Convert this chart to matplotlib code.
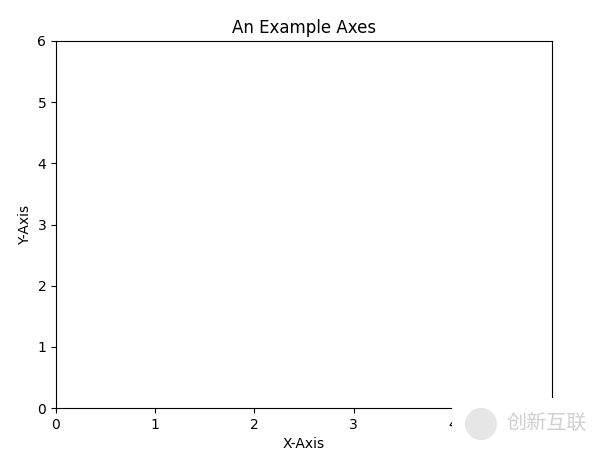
import matplotlib
matplotlib.use("Agg")
import matplotlib.pyplot as plt
from matplotlib.patches import Rectangle, Ellipse

title = "An Example Axes"
xlabel = "X-Axis"
ylabel = "Y-Axis"
xlim = [0, 5]
ylim = [0, 6]
xticks = [0, 1, 2, 3, 4]
yticks = [0, 1, 2, 3, 4, 5, 6]
watermark = "创新互联"

fig = plt.figure(figsize=(5.98, 4.54), dpi=100)
W, H = 598, 454
ax = fig.add_axes([56 / W, 1 - 408 / H, 496 / W, 367 / H])
ax.set_xlim(xlim)
ax.set_ylim(ylim)
ax.set_xticks(xticks)
ax.set_yticks(yticks)
ax.set_title(title)
ax.set_xlabel(xlabel)
ax.set_ylabel(ylabel)

# watermark overlay
fig.patches.append(Rectangle((452 / W, 0), 146 / W, (454 - 398) / H,
                             transform=fig.transFigure, facecolor="white",
                             edgecolor="none", zorder=10))
fig.patches.append(Ellipse((481 / W, 1 - 424 / H), 32 / W, 32 / H,
                           transform=fig.transFigure, facecolor="#e6e6e6",
                           edgecolor="none", zorder=11))
fig.text(547 / W, 1 - 423 / H, watermark, ha="center", va="center",
         fontsize=14.5, color="#d0d0d0", family=["Noto Sans CJK SC", "DejaVu Sans"],
         zorder=12)

fig.savefig("out.png", dpi=100)
